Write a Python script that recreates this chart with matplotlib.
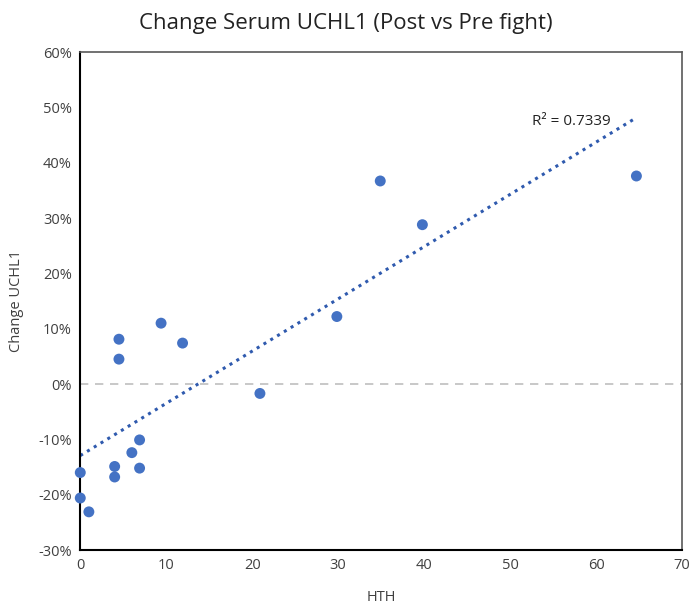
import numpy as np
import matplotlib
matplotlib.use("Agg")
import matplotlib.pyplot as plt
from matplotlib.ticker import FuncFormatter

plt.rcParams['font.family'] = ['Open Sans', 'DejaVu Sans']

hth = [0, 0, 1, 4.5, 4.5, 9.4, 11.9, 20.9, 4, 4, 6, 6.9, 6.9, 34.9, 39.8, 29.85, 64.7]
change = [-16.0, -20.6, -23.1, 8.1, 4.5, 11.0, 7.4, -1.7, -14.9, -16.8, -12.4, -10.1, -15.2, 36.7, 28.8, 12.2, 37.6]
r2_text = "R² = 0.7339"
title = "Change Serum UCHL1 (Post vs Pre fight)"
xlabel = "HTH"
ylabel = "Change UCHL1"

x = np.array(hth)
y = np.array(change) / 100.0

fig = plt.figure(figsize=(6.92, 6.11), dpi=100)
ax = fig.add_axes([0.116, 0.0998, 0.8695, 0.815])

blue = '#4472C4'
ax.axhline(0, color='#BFBFBF', lw=1.2, ls=(0, (5, 4)), zorder=1)

coef = np.polyfit(x, y, 1)
xs = np.array([x.min(), x.max()])
ax.plot(xs, np.polyval(coef, xs), ls=(0, (1, 1.6)), color='#2F5AAE', lw=2.2, zorder=2)

ax.scatter(x, y, s=62, color=blue, zorder=3, edgecolors='none', clip_on=False)

ax.set_xlim(0, 70)
ax.set_ylim(-0.30, 0.60)
ax.set_xticks(np.arange(0, 71, 10))
ax.set_yticks(np.arange(-0.30, 0.61, 0.10))
ax.yaxis.set_major_formatter(FuncFormatter(lambda v, p: f"{round(v*100):d}%"))
ax.tick_params(length=0, labelsize=10.5, colors='#404040', pad=6)

for s in ['left', 'bottom']:
    ax.spines[s].set_color('black')
    ax.spines[s].set_linewidth(1.5)
for s in ['top', 'right']:
    ax.spines[s].set_color('#595959')
    ax.spines[s].set_linewidth(1.2)

ax.text(52.6, 0.474, r2_text, fontsize=11, color='#222222', va='center', ha='left')

fig.text(0.5, 0.978, title, ha='center', va='top', fontsize=16, color='#222222')
ax.set_xlabel(xlabel, fontsize=10.5, color='#404040', labelpad=12)
ax.set_ylabel(ylabel, fontsize=10.5, color='#404040', labelpad=10)

fig.savefig('out.png', dpi=100)
